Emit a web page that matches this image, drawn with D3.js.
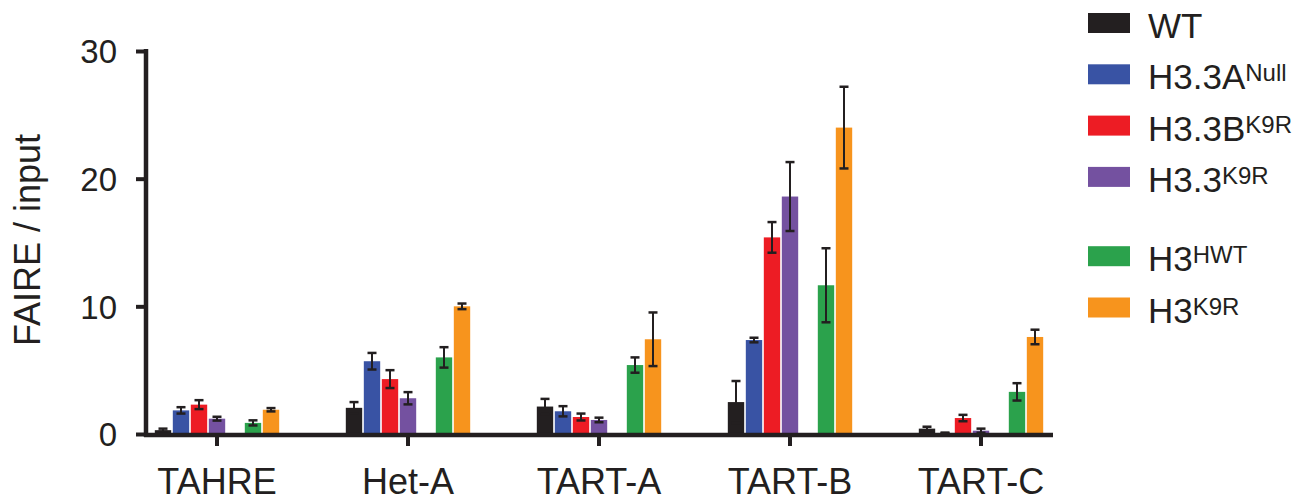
<!DOCTYPE html>
<html>
<head>
<meta charset="utf-8">
<script src="https://cdn.jsdelivr.net/npm/d3@7/dist/d3.min.js"></script>
<style>
  html, body { margin: 0; padding: 0; background: #fff; }
  svg { display: block; font-family: "Liberation Sans", Arial, Helvetica, sans-serif; }
</style>
</head>
<body>
<svg id="chart" width="1296" height="503"></svg>
<script>
// Target loci on the x axis
const categories = ["TAHRE", "Het-A", "TART-A", "TART-B", "TART-C"];

// FAIRE / input means and error bar half-widths per genotype
const wtMean       = [0.30, 2.05, 2.15, 2.50, 0.42];
const wtErr        = [0.12, 0.45, 0.60, 1.65, 0.15];
const h33aNullMean = [1.85, 5.70, 1.78, 7.36, 0.08];
const h33aNullErr  = [0.25, 0.65, 0.40, 0.18, 0.03];
const h33bK9RMean  = [2.30, 4.30, 1.33, 15.40, 1.25];
const h33bK9RErr   = [0.35, 0.70, 0.27, 1.20, 0.25];
const h33K9RMean   = [1.20, 2.80, 1.10, 18.60, 0.26];
const h33K9RErr    = [0.15, 0.48, 0.18, 2.70, 0.16];
const h3HWTMean    = [0.87, 6.00, 5.40, 11.65, 3.30];
const h3HWTErr     = [0.20, 0.80, 0.60, 2.90, 0.68];
const h3K9RMean    = [1.90, 10.00, 7.42, 24.00, 7.60];
const h3K9RErr     = [0.13, 0.22, 2.10, 3.20, 0.57];

// Y axis ticks
const yTicks = [0, 10, 20, 30];

// Genotype series: label base, superscript, colour, slot within a group
const series = [
  { key: "WT",      base: "WT",    sup: "",     color: "#231f20", slot: "s0", mean: wtMean,       err: wtErr },
  { key: "H33A",    base: "H3.3A", sup: "Null", color: "#3953a4", slot: "s1", mean: h33aNullMean, err: h33aNullErr },
  { key: "H33B",    base: "H3.3B", sup: "K9R",  color: "#ed1c24", slot: "s2", mean: h33bK9RMean,  err: h33bK9RErr },
  { key: "H33",     base: "H3.3",  sup: "K9R",  color: "#7451a0", slot: "s3", mean: h33K9RMean,   err: h33K9RErr },
  { key: "H3HWT",   base: "H3",    sup: "HWT",  color: "#2ba24c", slot: "s5", mean: h3HWTMean,    err: h3HWTErr },
  { key: "H3K9R",   base: "H3",    sup: "K9R",  color: "#f7941d", slot: "s6", mean: h3K9RMean,    err: h3K9RErr }
];
// Seven slots per group; s4 is left empty to separate the two sets
const slots = ["s0", "s1", "s2", "s3", "s4", "s5", "s6"];

const ink = "#231f20";
const svg = d3.select("#chart");

// Plot frame
const axisX = 146, axisY = 435, axisRight = 1053;
const y = d3.scaleLinear().domain([0, 30]).range([434, 51]);
const x = d3.scaleBand().domain(categories).range([121.5, 1076.5]).padding(0);
const inner = d3.scaleBand().domain(slots).range([0, 126]).paddingInner(0.09).paddingOuter(0.045);

// Bars
const groups = svg.append("g").selectAll("g")
  .data(categories)
  .join("g")
  .attr("transform", c => `translate(${x(c) + x.bandwidth() / 2 - 63},0)`);

const flat = (c, ci) => series.map(s => ({ s, c, v: s.mean[ci], e: s.err[ci] }));

groups.each(function (c, ci) {
  const g = d3.select(this);
  const items = flat(c, ci);
  g.selectAll("rect")
    .data(items)
    .join("rect")
    .attr("x", d => inner(d.s.slot))
    .attr("width", inner.bandwidth())
    .attr("y", d => y(d.v))
    .attr("height", d => y(0) - y(d.v))
    .attr("fill", d => d.s.color);

  // Error bars
  const eb = g.selectAll("g.err")
    .data(items)
    .join("g")
    .attr("class", "err")
    .attr("transform", d => `translate(${inner(d.s.slot) + inner.bandwidth() / 2},0)`);
  eb.append("line")
    .attr("y1", d => y(d.v + d.e)).attr("y2", d => y(Math.max(0, d.v - d.e)))
    .attr("stroke", ink).attr("stroke-width", 2);
  eb.append("line")
    .attr("x1", -4.5).attr("x2", 4.5)
    .attr("y1", d => y(d.v + d.e)).attr("y2", d => y(d.v + d.e))
    .attr("stroke", ink).attr("stroke-width", 2.5);
  eb.append("line")
    .attr("x1", -4.5).attr("x2", 4.5)
    .attr("y1", d => y(Math.max(0, d.v - d.e))).attr("y2", d => y(Math.max(0, d.v - d.e)))
    .attr("stroke", ink).attr("stroke-width", 2.5);
});

// Y axis
const yAxis = svg.append("g")
  .attr("transform", `translate(${axisX},0)`)
  .call(d3.axisLeft(y).tickValues(yTicks).tickSize(10).tickSizeOuter(0).tickPadding(19));
yAxis.select(".domain").remove();
yAxis.selectAll(".tick line").attr("stroke", ink).attr("stroke-width", 4);
yAxis.selectAll(".tick text")
  .attr("fill", ink).attr("font-size", 33).attr("font-family", null)
  .attr("dy", "0.36em");
svg.append("line")
  .attr("x1", axisX).attr("x2", axisX)
  .attr("y1", y(30) - 2).attr("y2", axisY + 2)
  .attr("stroke", ink).attr("stroke-width", 4.5);

// X axis
svg.append("line")
  .attr("x1", axisX - 2).attr("x2", axisRight)
  .attr("y1", axisY).attr("y2", axisY)
  .attr("stroke", ink).attr("stroke-width", 4.5);
const xAxis = svg.append("g")
  .attr("transform", `translate(0,${axisY})`)
  .call(d3.axisBottom(x).tickSize(11).tickSizeOuter(0));
xAxis.select(".domain").remove();
xAxis.selectAll(".tick line").attr("stroke", ink).attr("stroke-width", 4);
xAxis.selectAll(".tick text")
  .attr("fill", ink).attr("font-size", 36).attr("font-family", null)
  .attr("y", 59).attr("dy", 0);

// Y axis title
svg.append("text")
  .attr("transform", "translate(40,240) rotate(-90)")
  .attr("text-anchor", "middle")
  .attr("font-size", 36)
  .attr("fill", ink)
  .text("FAIRE / input");

// Legend
const legend = svg.append("g").selectAll("g")
  .data(series)
  .join("g")
  .attr("transform", (d, i) => `translate(1088,${23 + i * 51.3 + (i >= 4 ? 28 : 0)})`);
legend.append("rect")
  .attr("x", 0).attr("y", -10).attr("width", 42).attr("height", 20)
  .attr("fill", d => d.color);
const lt = legend.append("text")
  .attr("x", 60).attr("y", 15)
  .attr("font-size", 35)
  .attr("fill", ink);
lt.append("tspan").text(d => d.base);
lt.filter(d => d.sup).append("tspan")
  .attr("font-size", 24).attr("dy", -8)
  .text(d => d.sup);
</script>
</body>
</html>
